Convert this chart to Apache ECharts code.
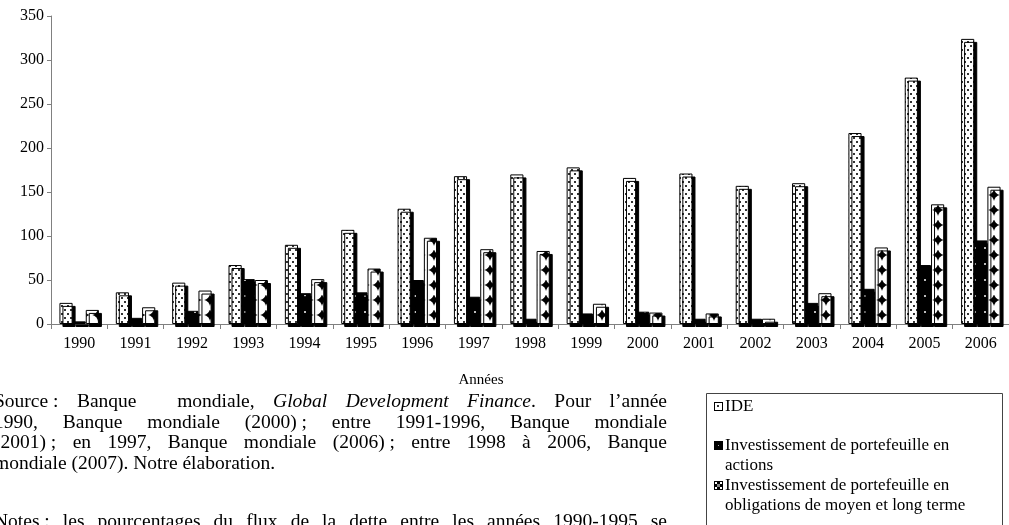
<!DOCTYPE html>
<html>
<head>
<meta charset="utf-8">
<script src="https://cdn.jsdelivr.net/npm/echarts@6/dist/echarts.min.js"></script>
<style>
html,body{margin:0;padding:0;background:#fff;}
#chart{width:1009px;height:525px;}
</style>
</head>
<body>
<div id="chart"></div>
<script>
// ---- Data ----
var years = ['1990','1991','1992','1993','1994','1995','1996','1997','1998','1999','2000','2001','2002','2003','2004','2005','2006'];
var ide = [24, 36, 47, 67, 90, 107, 131, 168, 170, 178, 166, 171, 157, 160, 217, 280, 324];
var actions = [3, 7, 15, 51, 35, 36, 50, 31, 6, 12, 14, 6, 6, 24, 40, 67, 95];
var obligations = [16, 19, 38, 50, 51, 63, 98, 85, 83, 23, 13, 12, 6, 35, 87, 136, 156];
var seriesNames = ['IDE', 'Investissement de portefeuille en actions', 'Investissement de portefeuille en obligations de moyen et long terme'];
var yTicks = [0, 50, 100, 150, 200, 250, 300, 350];

// ---- Patterns ----
function makeTile(w, h, draw) {
  var c = document.createElement('canvas');
  c.width = w; c.height = h;
  var ctx = c.getContext('2d');
  draw(ctx, w, h);
  return c;
}
var dotTile = makeTile(6, 8, function (ctx, w, h) {
  ctx.fillStyle = '#fff'; ctx.fillRect(0, 0, w, h);
  ctx.fillStyle = '#333';
  ctx.fillRect(1, 1, 2, 2);
  ctx.fillRect(4, 5, 2, 2);
});
var blackTile = makeTile(10, 16, function (ctx, w, h) {
  ctx.fillStyle = '#000'; ctx.fillRect(0, 0, w, h);
  ctx.fillStyle = '#bbb';
  ctx.fillRect(4, 7, 2, 2);
});
var circleTile = makeTile(14, 15, function (ctx, w, h) {
  ctx.fillStyle = '#000'; ctx.fillRect(0, 0, w, h);
  ctx.fillStyle = '#fff';
  ctx.beginPath();
  ctx.ellipse(w / 2, h / 2, 7.2, 7.6, 0, 0, Math.PI * 2);
  ctx.fill();
});
var fills = [
  { image: dotTile, repeat: 'repeat' },
  { image: blackTile, repeat: 'repeat' },
  { image: circleTile, repeat: 'repeat' }
];
// legend swatches (9x9 incl. border)
var swatches = [
  makeTile(9, 9, function (ctx) {
    ctx.fillStyle = '#000'; ctx.fillRect(0, 0, 9, 9);
    ctx.fillStyle = '#fff'; ctx.fillRect(1, 1, 7, 7);
    ctx.fillStyle = '#333'; ctx.fillRect(3, 3, 2, 2);
  }),
  makeTile(9, 9, function (ctx) {
    ctx.fillStyle = '#000'; ctx.fillRect(0, 0, 9, 9);
    ctx.fillStyle = '#aaa'; ctx.fillRect(4, 4, 1, 1);
  }),
  makeTile(9, 9, function (ctx) {
    ctx.fillStyle = '#000'; ctx.fillRect(0, 0, 9, 9);
    ctx.fillStyle = '#fff';
    ctx.fillRect(1, 1, 2, 2); ctx.fillRect(6, 1, 2, 2);
    ctx.fillRect(1, 6, 2, 2); ctx.fillRect(6, 6, 2, 2);
    ctx.fillStyle = '#888'; ctx.fillRect(3, 3, 3, 3);
  })
];

var serif = '"Liberation Serif", "Times New Roman", serif';

// ---- Justified paragraph as graphic text ----
var measureCtx = document.createElement('canvas').getContext('2d');
function segFont(size, italic) { return (italic ? 'italic ' : '') + size + 'px ' + serif; }
function segWidth(seg, size) { measureCtx.font = segFont(size, seg[1]); return measureCtx.measureText(seg[0]).width; }
function layoutLine(words, x0, x1, y, size, justify, out) {
  var widths = words.map(function (wd) { return wd.segs.reduce(function (s, g) { return s + segWidth(g, size); }, 0); });
  var total = widths.reduce(function (a, b) { return a + b; }, 0);
  var weights = 0;
  for (var i = 1; i < words.length; i++) weights += (words[i].gw || 1);
  measureCtx.font = segFont(size, false);
  var space = measureCtx.measureText(' ').width;
  var unit = justify ? (x1 - x0 - total) / weights : space;
  var x = x0;
  words.forEach(function (wd, i) {
    if (i > 0) x += unit * (wd.gw || 1);
    var sx = x;
    wd.segs.forEach(function (g) {
      out.push({ type: 'text', x: sx, y: y, silent: true,
        style: { text: g[0], font: segFont(size, g[1]), fill: '#000', textVerticalAlign: 'middle' } });
      sx += segWidth(g, size);
    });
    x += widths[i];
  });
}
function W(text, gw) { return { segs: [[text, false]], gw: gw }; }
function I(text, gw) { return { segs: [[text, true]], gw: gw }; }

var para = [
  { words: [W('Source\u00a0:'), W('Banque'), W('mondiale,', 2.2), I('Global'), I('Development'), { segs: [['Finance', true], ['.', false]] }, W('Pour'), W('l\u2019ann\u00e9e')], justify: true },
  { words: [W('1990,'), W('Banque'), W('mondiale'), W('(2000)\u00a0;'), W('entre'), W('1991-1996,'), W('Banque'), W('mondiale')], justify: true },
  { words: [W('(2001)\u00a0;'), W('en'), W('1997,'), W('Banque'), W('mondiale'), W('(2006)\u00a0;'), W('entre'), W('1998'), W('\u00e0'), W('2006,'), W('Banque')], justify: true },
  { words: [W('mondiale'), W('(2007).'), W('Notre'), W('\u00e9laboration.')], justify: false },
  { words: [W('Notes\u00a0:'), W('les'), W('pourcentages'), W('du'), W('flux'), W('de'), W('la'), W('dette'), W('entre'), W('les'), W('ann\u00e9es'), W('1990-1995'), W('se')], justify: true }
];
var paraY = [402, 422.5, 443, 463.5, 522];
var textEls = [];
para.forEach(function (ln, i) {
  layoutLine(ln.words, -6, 667, paraY[i], 19.5, ln.justify, textEls);
});

// ---- Legend (graphic) ----
var legendEls = [
  { type: 'rect', shape: { x: 706.5, y: 393.5, width: 296, height: 200 }, style: { fill: '#fff', stroke: '#444', lineWidth: 1 }, silent: true }
];
var legendItems = [
  { lines: ['IDE'], y: 407 },
  { lines: ['Investissement de portefeuille en', 'actions'], y: 446 },
  { lines: ['Investissement de portefeuille en', 'obligations de moyen et long terme'], y: 486 }
];
legendItems.forEach(function (it, k) {
  legendEls.push({ type: 'image', x: 714, y: it.y - 5, silent: true,
    style: { image: swatches[k], width: 9, height: 9 } });
  it.lines.forEach(function (t, j) {
    legendEls.push({ type: 'text', x: 725, y: it.y + j * 19.5, silent: true,
      style: { text: t, font: '17px ' + serif, fill: '#000', textVerticalAlign: 'middle' } });
  });
});

var chart = echarts.init(document.getElementById('chart'), null, { renderer: 'canvas' });

function barSeries(k, data) {
  return {
    name: seriesNames[k],
    type: 'bar',
    data: data,
    barGap: '0%',
    barCategoryGap: '30%',
    clip: true,
    animation: false,
    itemStyle: {
      color: fills[k],
      borderColor: '#000',
      borderWidth: 1,
      shadowColor: '#000',
      shadowBlur: 0,
      shadowOffsetX: 3,
      shadowOffsetY: 3
    }
  };
}

chart.setOption({
  animation: false,
  backgroundColor: '#fff',
  grid: { left: 51, top: 16, bottom: 201, right: -13, containLabel: false },
  xAxis: {
    type: 'category',
    data: years,
    axisLine: { show: true, lineStyle: { color: '#808080', width: 1 } },
    axisTick: { show: true, alignWithLabel: false, length: 5, lineStyle: { color: '#808080' } },
    axisLabel: { color: '#000', fontFamily: serif, fontSize: 16, margin: 12, interval: 0 },
    splitLine: { show: false }
  },
  yAxis: {
    type: 'value',
    min: yTicks[0],
    max: yTicks[yTicks.length - 1],
    interval: 50,
    axisLine: { show: true, lineStyle: { color: '#808080', width: 1 } },
    axisTick: { show: true, length: 4, lineStyle: { color: '#808080' } },
    axisLabel: { color: '#000', fontFamily: serif, fontSize: 16, margin: 7 },
    splitLine: { show: false }
  },
  legend: { show: false },
  series: [barSeries(0, ide), barSeries(1, actions), barSeries(2, obligations)],
  graphic: [
    { type: 'text', x: 481, y: 380, silent: true,
      style: { text: 'Ann\u00e9es', font: '15px ' + serif, fill: '#000', textAlign: 'center', textVerticalAlign: 'middle' } }
  ].concat(textEls).concat(legendEls)
});
</script>
</body>
</html>
